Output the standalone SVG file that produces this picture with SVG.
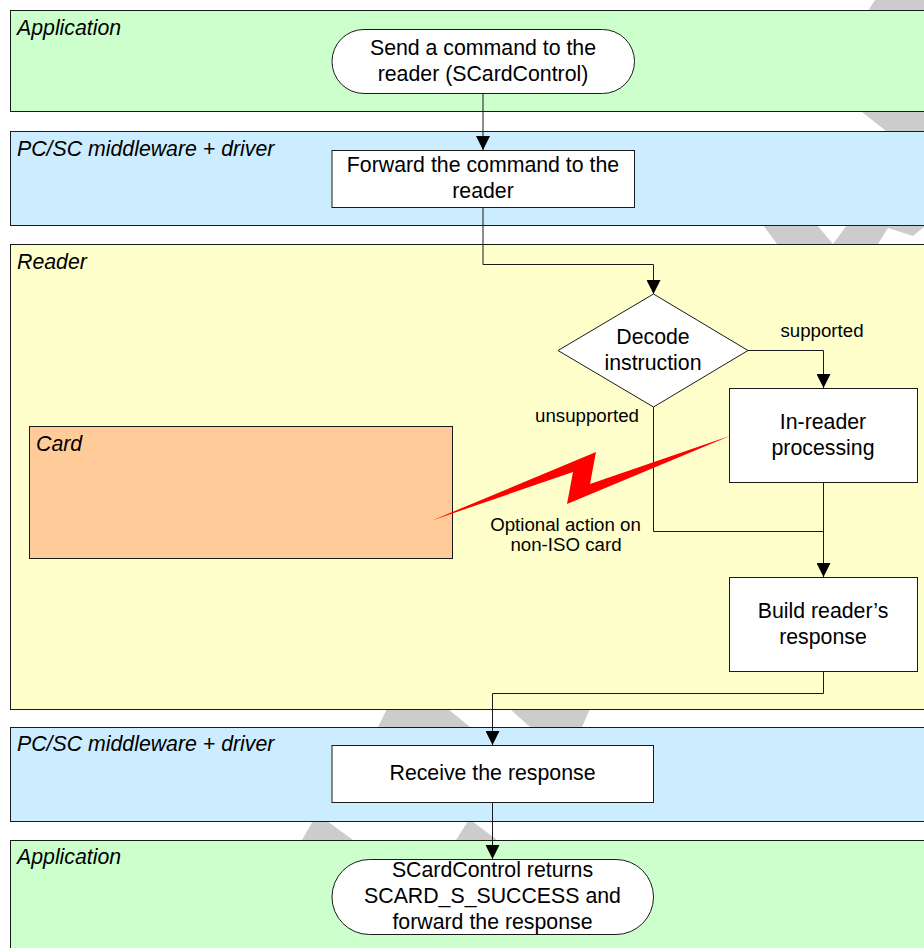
<svg xmlns="http://www.w3.org/2000/svg" width="924" height="948" viewBox="0 0 924 948">
<style>
text{font-family:"Liberation Sans",Arial,sans-serif;fill:#000}
.t{font-size:21.3px;text-anchor:middle}
.l{font-size:21.3px;font-style:italic}
.s{font-size:18.7px;text-anchor:middle}
.lane{stroke:#1a1a1a;stroke-width:1}
.n{fill:#fff;stroke:#1a1a1a;stroke-width:1}
.c{fill:none;stroke:#1a1a1a;stroke-width:1}
.wm{fill:#ccc}
</style>
<defs><marker id="a" markerUnits="userSpaceOnUse" markerWidth="15" markerHeight="14" refX="14" refY="7" orient="auto"><path d="M0 0L14 7L0 14Z" fill="#000"/></marker></defs>
<rect width="924" height="948" fill="#fff"/>
<g id="watermark">
<polygon class="wm" points="868,11 875,0 924,0 924,11"/>
<polygon class="wm" points="862,112 886,131 924,131 924,112"/>
<polygon class="wm" points="763,225 817,225 833,244 847,225 924,225 924,227 913,236 888,228 878,244 777,244"/>
<polygon class="wm" points="387,709 448,709 470,727 378,727"/>
<polygon class="wm" points="510,709 590,709 582,727 530,727"/>
<polygon class="wm" points="313,821 327,821 353,840 302,840"/>
<polygon class="wm" points="468,821 472,821 497,840 456,840"/>
</g>
<g id="lane-application-top"><rect class="lane" x="10.5" y="10.5" width="930" height="101" fill="#cfc"/><text class="l" x="17" y="35">Application</text></g>
<g id="lane-middleware-top"><rect class="lane" x="10.5" y="131.5" width="930" height="94" fill="#ccecff"/><text class="l" x="17" y="156">PC/SC middleware + driver</text></g>
<g id="lane-reader"><rect class="lane" x="10.5" y="244.5" width="930" height="465" fill="#ffc"/><text class="l" x="17" y="269">Reader</text></g>
<g id="lane-middleware-bottom"><rect class="lane" x="10.5" y="727.5" width="930" height="94" fill="#ccecff"/><text class="l" x="17" y="751">PC/SC middleware + driver</text></g>
<g id="lane-application-bottom"><rect class="lane" x="10.5" y="840.5" width="930" height="130" fill="#cfc"/><text class="l" x="17" y="864">Application</text></g>
<g id="card"><rect class="lane" x="29.5" y="426.5" width="423" height="132" fill="#fc9"/><text class="l" x="36" y="451">Card</text></g>
<g id="connectors">
<path class="c" marker-end="url(#a)" d="M483 93V150"/>
<path class="c" marker-end="url(#a)" d="M483 207V264.500H653.500V294"/>
<path class="c" marker-end="url(#a)" d="M748 350.500H823.500V388"/>
<path class="c" marker-end="url(#a)" d="M823.500 483V577"/>
<path class="c" d="M653.500 407V531.500H823.500"/>
<path class="c" marker-end="url(#a)" d="M823.500 671V693.500H492.500V745"/>
<path class="c" marker-end="url(#a)" d="M492.500 802V859"/>
</g>
<g id="lightning"><polygon points="432,520.500 596,452 590,484 731,435.500 567,504 573,472" fill="#f00"/></g>
<g id="send"><rect class="n" x="332" y="29.500" width="302.500" height="64" rx="32"/><text class="t" x="483" y="55">Send a command to the</text><text class="t" x="483" y="81">reader (SCardControl)</text></g>
<g id="forward"><rect class="n" x="332" y="150.500" width="302.500" height="57"/><text class="t" x="483" y="172">Forward the command to the</text><text class="t" x="483" y="198">reader</text></g>
<g id="decode"><polygon class="n" points="653.500,294 748,350.500 653.500,407 558,350.500"/><text class="t" x="653" y="344">Decode</text><text class="t" x="653" y="370">instruction</text></g>
<g id="in-reader"><rect class="n" x="729.500" y="388.500" width="188" height="94"/><text class="t" x="823" y="429">In-reader</text><text class="t" x="823" y="455">processing</text></g>
<g id="build"><rect class="n" x="729.500" y="577.500" width="188" height="94"/><text class="t" x="823" y="618">Build reader’s</text><text class="t" x="823" y="644">response</text></g>
<g id="receive"><rect class="n" x="332" y="745.500" width="321.500" height="57"/><text class="t" x="492.500" y="780">Receive the response</text></g>
<g id="returns"><rect class="n" x="332" y="859.500" width="321.500" height="75" rx="37.500"/><text class="t" x="492.500" y="877">SCardControl returns</text><text class="t" x="492.500" y="903">SCARD_S_SUCCESS and</text><text class="t" x="492.500" y="929">forward the response</text></g>
<g id="labels"><text class="s" x="822" y="337">supported</text><text class="s" x="587" y="422">unsupported</text><text class="s" x="565.500" y="531">Optional action on</text><text class="s" x="566" y="551">non-ISO card</text></g>
</svg>
